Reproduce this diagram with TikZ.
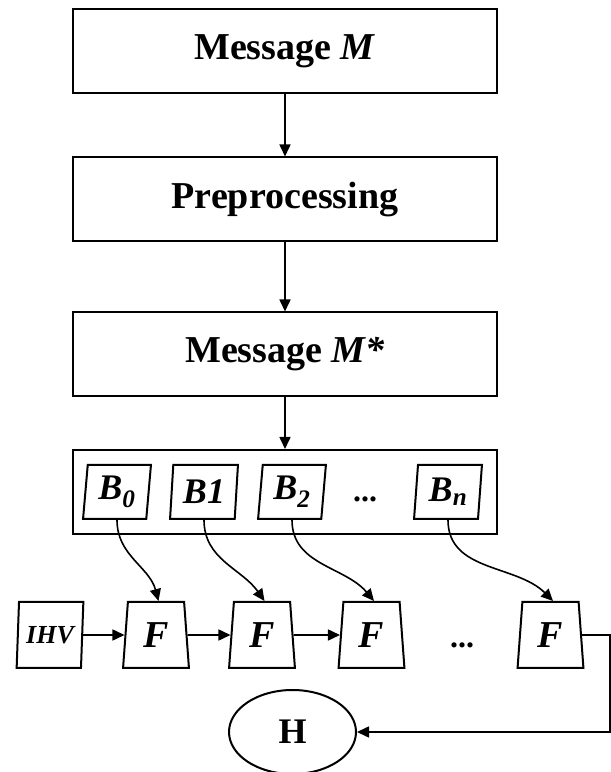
\documentclass[tikz,border=0pt]{standalone}
\usepackage{fontspec}
\setmainfont{Liberation Serif}
\usetikzlibrary{shapes.geometric,arrows.meta}
\begin{document}
\begin{tikzpicture}[x=1pt,y=1pt,
  box/.style={draw,line width=2pt,minimum width=424pt,minimum height=84pt,inner sep=0pt,font=\fontsize{38}{42}\selectfont\bfseries},
  blk/.style={draw,line width=2pt,trapezium,trapezium left angle=84.7,trapezium right angle=95.3,trapezium stretches=true,minimum width=68pt,minimum height=54pt,inner sep=0pt,font=\fontsize{36}{40}\selectfont\bfseries\itshape},
  fbox/.style={draw,line width=2pt,trapezium,trapezium left angle=85,trapezium right angle=85,trapezium stretches=true,minimum width=66pt,minimum height=66pt,inner sep=0pt,font=\fontsize{38}{42}\selectfont\bfseries\itshape},
  dots/.style={inner sep=0pt,anchor=base,font=\fontsize{32}{36}\selectfont\bfseries},
  arr/.style={line width=1.6pt,-{Triangle[length=12pt,width=11pt]}}
]
\useasboundingbox (0,0) rectangle (611,772);
\node[box] (M) at (285,721) {Message \textit{M}};
\node[box] (P) at (285,572.5) {Preprocessing};
\node[box] (Ms) at (285,417.5) {Message \textit{M*}};
\node[box] (cont) at (285,280) {};
\node[blk] (B0) at (117,280) {B\textsubscript{0}};
\node[blk] (B1) at (204,280) {B1};
\node[blk] (B2) at (292,280) {B\textsubscript{2}};
\node[dots] (d1) at (365,270) {...};
\node[blk] (Bn) at (448,280) {B\textsubscript{n}};
\node[blk,trapezium left angle=84,trapezium right angle=96,minimum width=67pt,minimum height=66pt,font=\fontsize{26}{30}\selectfont\bfseries\itshape] (IHV) at (50,137) {IHV};
\node[fbox] (F1) at (156,137) {F};
\node[fbox] (F2) at (262,137) {F};
\node[fbox] (F3) at (371.5,137) {F};
\node[dots] (d2) at (462,124) {...};
\node[fbox] (F4) at (550.5,137) {F};
\node[draw,ellipse,line width=2pt,minimum width=127pt,minimum height=84pt,inner sep=0pt,font=\fontsize{36}{40}\selectfont\bfseries] (H) at (292.5,40) {H};
\coordinate (c) at (610,137);
\draw[arr] (M) -- (P);
\draw[arr] (P) -- (Ms);
\draw[arr] (Ms) -- (cont);
\draw[arr] (B0.south) to[out=-90,in=105] ([xshift=2.5pt]F1.north);
\draw[arr] (B1.south) to[out=-90,in=125] ([xshift=2.5pt]F2.north);
\draw[arr] (B2.south) to[out=-90,in=130] ([xshift=2.5pt]F3.north);
\draw[arr] (Bn.south) to[out=-90,in=135] ([xshift=2.5pt]F4.north);
\draw[arr] (IHV) -- (F1);
\draw[arr] (F1) -- (F2);
\draw[arr] (F2) -- (F3);
\draw[arr] (F4.east) -- (c) |- (H.east);
\end{tikzpicture}
\end{document}
